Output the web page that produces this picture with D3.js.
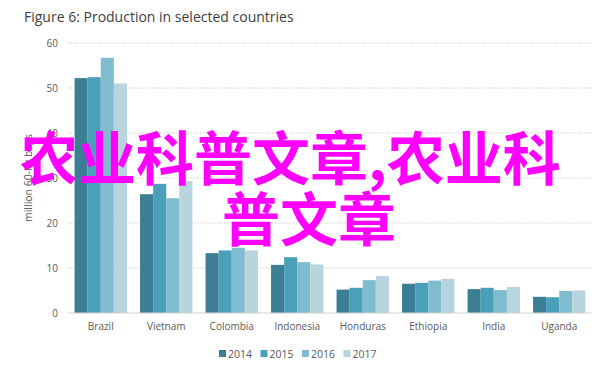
<!DOCTYPE html>
<html>
<head>
<meta charset="utf-8">
<script src="https://cdn.jsdelivr.net/npm/d3@7"></script>
<style>
  body { margin: 0; background: #fff; }
  svg { display: block; font-family: "Open Sans", "Liberation Sans", sans-serif; }
</style>
</head>
<body>
<div id="chart"></div>
<script>
(() => {
    const countries = ['Brazil', 'Vietnam', 'Colombia', 'Indonesia', 'Honduras', 'Ethiopia', 'India', 'Uganda'];
    const years = ['2014', '2015', '2016', '2017'];
    const v2014 = [52.2, 26.4, 13.3, 10.7, 5.2, 6.5, 5.3, 3.6];
    const v2015 = [52.4, 28.7, 13.9, 12.4, 5.6, 6.7, 5.6, 3.5];
    const v2016 = [56.7, 25.5, 14.5, 11.3, 7.3, 7.2, 5.1, 4.9];
    const v2017 = [51.0, 29.3, 13.9, 10.8, 8.2, 7.6, 5.8, 5.0];
    const yTicks = [0, 10, 20, 30, 40, 50, 60];
    const colors = ['#3c7f95', '#4aa0b8', '#80bccf', '#b8d4de'];
    const overlay = ['农业科普文章,农业科', '普文章'];

    const series = [v2014, v2015, v2016, v2017];
    const W = 612, H = 366;
    const m = { left: 68, right: 20, top: 43, bottom: 53 };

    let svg = d3.select('#chart')
        .append('svg')
        .attr('width', W)
        .attr('height', H);

    let x = d3.scaleBand()
        .domain(countries)
        .range([m.left, W - m.right])
        .paddingInner(0.2)
        .paddingOuter(0.1);
    let x1 = d3.scaleBand()
        .domain(years)
        .range([0, x.bandwidth()]);
    let y = d3.scaleLinear()
        .domain([0, 60])
        .range([H - m.bottom, m.top]);

    // title
    svg.append('text')
        .attr('x', 24).attr('y', 22)
        .attr('font-size', 14)
        .attr('fill', '#404040')
        .text('Figure 6: Production in selected countries');

    // gridlines
    svg.append('g')
        .selectAll('line')
        .data(yTicks.filter(t => t > 0))
        .enter()
        .append('line')
        .attr('x1', m.left).attr('x2', W - m.right)
        .attr('y1', d => y(d)).attr('y2', d => y(d))
        .attr('stroke', '#d0d0d0')
        .attr('stroke-dasharray', '1.5,1.5');

    // y axis labels
    let yAxis = svg.append('g')
        .attr('transform', `translate(${m.left - 10},0)`)
        .call(d3.axisLeft(y).tickValues(yTicks).tickSize(0).tickPadding(0));
    yAxis.select('.domain').remove();
    yAxis.selectAll('text')
        .attr('font-size', 10)
        .attr('font-family', '"Open Sans", sans-serif')
        .attr('fill', '#595959');

    svg.append('text')
        .attr('transform', `translate(32,${(y(0) + y(60)) / 2}) rotate(-90)`)
        .attr('text-anchor', 'middle')
        .attr('font-size', 10.5)
        .attr('fill', '#595959')
        .text('million 60-kg bags');

    // bars
    years.forEach((yr, k) => {
        svg.append('g')
            .selectAll('rect')
            .data(series[k])
            .enter()
            .append('rect')
            .attr('x', (d, i) => x(countries[i]) + x1(yr))
            .attr('y', d => y(d))
            .attr('width', x1.bandwidth())
            .attr('height', d => y(0) - y(d))
            .attr('fill', colors[k]);
    });

    // baseline
    svg.append('line')
        .attr('x1', m.left).attr('x2', W - m.right)
        .attr('y1', y(0)).attr('y2', y(0))
        .attr('stroke', '#d0d0d0');

    // x labels
    let xAxis = svg.append('g')
        .attr('transform', `translate(0,${y(0)})`)
        .call(d3.axisBottom(x).tickSize(0).tickPadding(10));
    xAxis.select('.domain').remove();
    xAxis.selectAll('text')
        .attr('font-size', 10)
        .attr('font-family', '"Open Sans", sans-serif')
        .attr('fill', '#595959');

    // legend
    let leg = svg.append('g')
        .selectAll('g')
        .data(years)
        .enter()
        .append('g')
        .attr('transform', (d, i) => `translate(${219 + i * 41.5},350)`);
    leg.append('rect')
        .attr('width', 7).attr('height', 7)
        .attr('fill', (d, i) => colors[i]);
    leg.append('text')
        .attr('x', 9).attr('y', 7.5)
        .attr('font-size', 10.5)
        .attr('fill', '#595959')
        .text(d => d);

    // overlay text
    svg.append('g')
        .selectAll('text')
        .data(overlay)
        .enter()
        .append('text')
        .attr('x', (d, i) => i === 0 ? 20 : 222)
        .attr('y', (d, i) => i === 0 ? 180 : 241)
        .attr('font-family', '"Noto Sans CJK SC", sans-serif')
        .attr('font-weight', 'bold')
        .attr('font-size', 58)
        .attr('fill', '#ff00ff')
        .text(d => d);
})();
</script>
</body>
</html>
